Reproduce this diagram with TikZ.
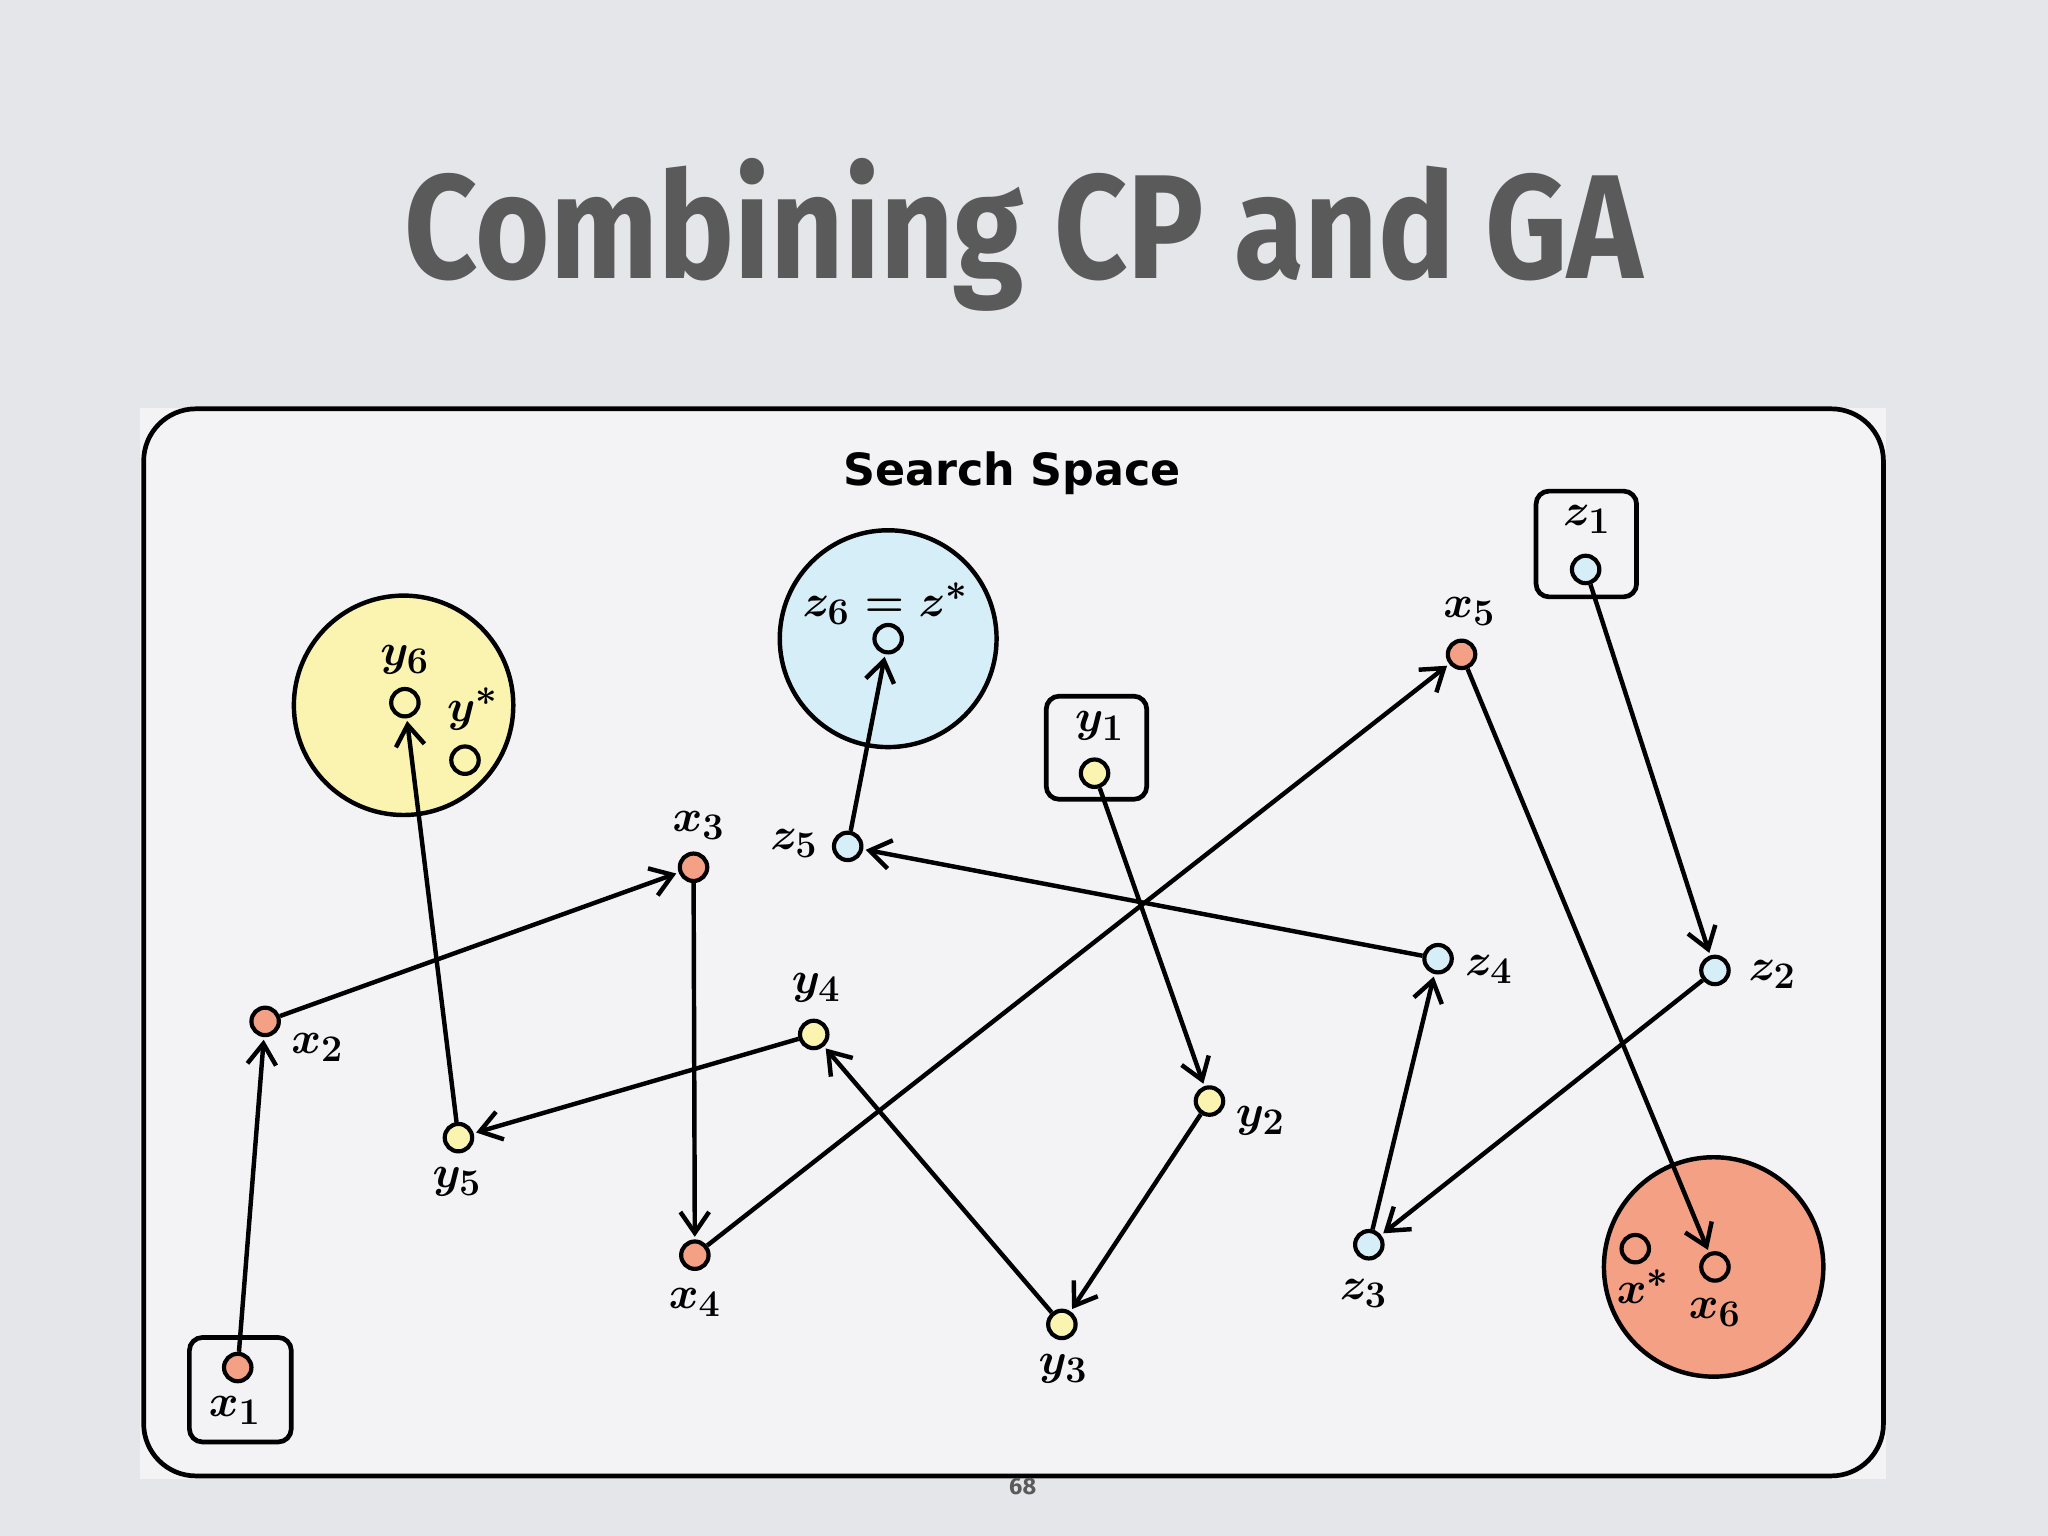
\documentclass[tikz,border=0pt]{standalone}
\usepackage{fontspec}
\setsansfont{Fira Sans}
\newfontfamily\dvs{DejaVu Sans}
\usetikzlibrary{arrows.meta}
\definecolor{bgc}{HTML}{E4E6EA}
\definecolor{panel}{HTML}{F3F2F4}
\definecolor{xo}{HTML}{F4A085}
\definecolor{yy}{HTML}{FAF4B0}
\definecolor{zb}{HTML}{D6EEF8}
\definecolor{ttl}{HTML}{5A5A5A}
\tikzset{
  dot/.style={circle,draw=black,line width=1.6pt,minimum size=10.5pt,inner sep=0pt},
  big/.style={circle,draw=black,line width=1.7pt,inner sep=0pt},
  sbox/.style={draw=black,line width=1.8pt,rounded corners=5pt},
  arr/.style={line width=1.7pt,-{Straight Barb[length=8pt,width=11pt,line width=1.7pt]},shorten >=1pt},
  lab/.style={font=\fontsize{19}{22}\selectfont\boldmath,inner sep=0pt}
}
\begin{document}
\begin{tikzpicture}[x=0.5pt,y=-0.5pt]
\fill[bgc] (0,0) rectangle (1568,1176);
\useasboundingbox (0,0) rectangle (1568,1176);
\node[text=ttl,font=\sffamily\bfseries] (title) at (784,180) {\resizebox{474pt}{46pt}{Combining CP and GA}};
\fill[panel] (107,312) rectangle (1444,1132);
\draw[line width=1.8pt,rounded corners=20pt] (110,313) rectangle (1442,1130);
\node[font=\dvs\bfseries\fontsize{17}{20}\selectfont] (ss) at (775,362) {Search Space};
\node[font=\sffamily\bfseries\fontsize{9}{10}\selectfont,text=ttl] (pg) at (783,1138) {68};
% big circles
\node[big,fill=yy,minimum size=84pt] (cy) at (309,540) {};
\node[big,fill=zb,minimum size=83pt] (cz) at (680,489) {};
\node[big,fill=xo,minimum size=84pt] (cx) at (1312,970) {};
% boxes
\draw[sbox] (145,1024) rectangle (223,1104);
\draw[sbox] (801,533) rectangle (878,612);
\draw[sbox] (1176,376) rectangle (1253,457);
% dots
\node[dot,fill=xo] (x1) at (182,1047) {};
\node[dot,fill=xo] (x2) at (203,782) {};
\node[dot,fill=xo] (x3) at (531,664) {};
\node[dot,fill=xo] (x4) at (532,961) {};
\node[dot,fill=xo] (x5) at (1119,501) {};
\node[dot,fill=xo] (x6) at (1313,970) {};
\node[dot,fill=xo] (xs) at (1252,956) {};
\node[dot,fill=yy] (y1) at (838,592) {};
\node[dot,fill=yy] (y2) at (926,843) {};
\node[dot,fill=yy] (y3) at (813,1014) {};
\node[dot,fill=yy] (y4) at (623,792) {};
\node[dot,fill=yy] (y5) at (351,871) {};
\node[dot,fill=yy] (y6) at (310,538) {};
\node[dot,fill=yy] (ys) at (356,582) {};
\node[dot,fill=zb] (z1) at (1214,436) {};
\node[dot,fill=zb] (z2) at (1313,743) {};
\node[dot,fill=zb] (z3) at (1048,953) {};
\node[dot,fill=zb] (z4) at (1101,734) {};
\node[dot,fill=zb] (z5) at (649,648) {};
\node[dot,fill=zb] (z6) at (680,489) {};
% arrows
\draw[arr] (x1) -- (x2); \draw[arr] (x2) -- (x3); \draw[arr] (x3) -- (x4);
\draw[arr] (x4) -- (x5); \draw[arr] (x5) -- (x6);
\draw[arr] (y1) -- (y2); \draw[arr] (y2) -- (y3); \draw[arr] (y3) -- (y4);
\draw[arr] (y4) -- (y5); \draw[arr] (y5) -- (y6);
\draw[arr] (z1) -- (z2); \draw[arr] (z2) -- (z3); \draw[arr] (z3) -- (z4);
\draw[arr] (z4) -- (z5); \draw[arr] (z5) -- (z6);
% labels
\node[lab] (lx1) at (180,1080) {$x_1$};
\node[lab] (lx2) at (243,802) {$x_2$};
\node[lab] (lx3) at (535,632) {$x_3$};
\node[lab] (lx4) at (532,997) {$x_4$};
\node[lab] (lx5) at (1125,468) {$x_5$};
\node[lab] (lx6) at (1313,1005) {$x_6$};
\node[lab] (lxs) at (1258,985) {$x^*$};
\node[lab] (ly1) at (842,556) {$y_1$};
\node[lab] (ly2) at (965,858) {$y_2$};
\node[lab] (ly3) at (814,1048) {$y_3$};
\node[lab] (ly4) at (625,756) {$y_4$};
\node[lab] (ly5) at (350,905) {$y_5$};
\node[lab] (ly6) at (310,505) {$y_6$};
\node[lab] (lys) at (362,543) {$y^*$};
\node[lab] (lz1) at (1215,398) {$z_1$};
\node[lab] (lz2) at (1357,746) {$z_2$};
\node[lab] (lz3) at (1044,990) {$z_3$};
\node[lab] (lz4) at (1140,742) {$z_4$};
\node[lab] (lz5) at (608,646) {$z_5$};
\node[lab] (lz6) at (678,462) {$z_6=z^*$};
\end{tikzpicture}
\end{document}
